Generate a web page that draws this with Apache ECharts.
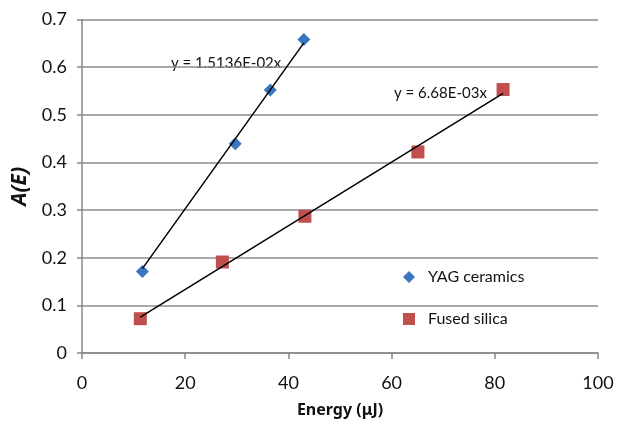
<!DOCTYPE html>
<html>
<head>
<meta charset="utf-8">
<script src="https://cdn.jsdelivr.net/npm/echarts@6/dist/echarts.min.js"></script>
<style>html,body{margin:0;padding:0;background:#fff}#c{width:619px;height:427px}</style>
</head>
<body>
<div id="c"></div>
<script>
var seriesNames = ['YAG ceramics', 'Fused silica'];
var yagX = [11.7, 29.7, 36.5, 43.0];
var yagY = [0.171, 0.439, 0.552, 0.658];
var silicaX = [11.3, 27.2, 43.2, 65.1, 81.6];
var silicaY = [0.072, 0.191, 0.287, 0.422, 0.553];
var slopes = [1.5136E-02, 6.68E-03];
var trendLabels = ['y = 1.5136E-02x', 'y = 6.68E-03x'];
var xTicks = [0, 20, 40, 60, 80, 100];
var yTicks = [0, 0.1, 0.2, 0.3, 0.4, 0.5, 0.6, 0.7];

function pairs(xs, ys) { return xs.map(function (x, i) { return [x, ys[i]]; }); }
function trend(xs, k) {
  var lo = Math.min.apply(null, xs), hi = Math.max.apply(null, xs);
  return [[lo, k * lo], [hi, k * hi]];
}

var FONT = 'Lato';
var chart = echarts.init(document.getElementById('c'));
chart.setOption({
  animation: false,
  textStyle: { fontFamily: FONT },
  grid: { left: 82, right: 21, top: 19.5, bottom: 74 },
  xAxis: {
    type: 'value', min: xTicks[0], max: xTicks[xTicks.length - 1], interval: 20,
    name: 'Energy (μJ)', nameLocation: 'middle', nameGap: 49,
    nameTextStyle: { fontFamily: 'Noto Sans', fontWeight: 'bold', fontSize: 16, color: '#111' },
    axisLine: { lineStyle: { color: '#888', width: 1.5 } },
    axisTick: { show: true, length: 6, lineStyle: { color: '#888', width: 1.5 } },
    axisLabel: { fontFamily: FONT, fontSize: 18, color: '#111', margin: 21 },
    splitLine: { show: false }
  },
  yAxis: {
    type: 'value', min: yTicks[0], max: yTicks[yTicks.length - 1], interval: 0.1,
    name: 'A(E)', nameLocation: 'middle', nameGap: 47, nameRotate: 90,
    nameTextStyle: { fontFamily: 'Noto Sans', fontWeight: 'bold', fontStyle: 'italic', fontSize: 21, color: '#111' },
    axisLine: { show: true, lineStyle: { color: '#888', width: 1.5 } },
    axisTick: { show: true, inside: false, length: 5, lineStyle: { color: '#888', width: 1.5 } },
    axisLabel: { fontFamily: FONT, fontSize: 18, color: '#111', margin: 15,
      formatter: function (v) { return v === 0 ? '0' : v.toFixed(1); } },
    splitLine: { show: true, lineStyle: { color: '#8c8c8c', width: 1.5 } }
  },
  legend: {
    orient: 'vertical', left: 398, top: 264, itemGap: 26,
    itemWidth: 12, itemHeight: 12,
    textStyle: { fontFamily: FONT, fontSize: 16, color: '#111', padding: [0, 0, 0, 8] },
    data: [{ name: seriesNames[0], icon: 'diamond' }, { name: seriesNames[1], icon: 'rect' }]
  },
  graphic: [
    { type: 'text', left: 171, top: 56, style: { text: trendLabels[0], font: '15px ' + FONT, fill: '#111' } },
    { type: 'text', left: 394, top: 86, style: { text: trendLabels[1], font: '15px ' + FONT, fill: '#111' } }
  ],
  series: [
    { name: 'trend1', type: 'line', data: trend(yagX, slopes[0]), symbol: 'none',
      lineStyle: { color: '#000', width: 1.5 }, z: 3, silent: true },
    { name: 'trend2', type: 'line', data: trend(silicaX, slopes[1]), symbol: 'none',
      lineStyle: { color: '#000', width: 1.5 }, z: 3, silent: true },
    { name: seriesNames[0], type: 'scatter', data: pairs(yagX, yagY), symbol: 'diamond', symbolSize: 13,
      itemStyle: { color: '#3a76c0', opacity: 1 }, z: 2 },
    { name: seriesNames[1], type: 'scatter', data: pairs(silicaX, silicaY), symbol: 'rect', symbolSize: 13,
      itemStyle: { color: '#c0504d', opacity: 1 }, z: 2 }
  ]
});
</script>
</body>
</html>
